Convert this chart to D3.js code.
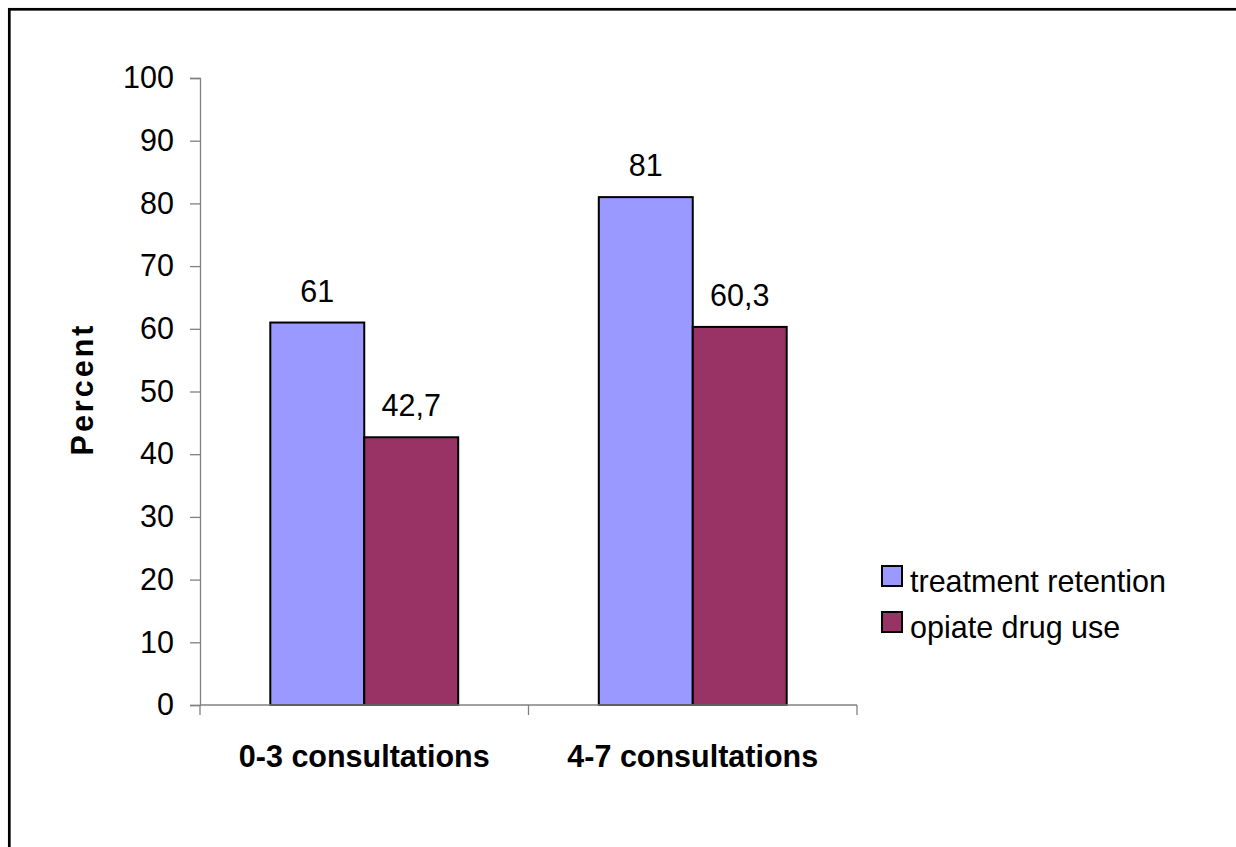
<!DOCTYPE html>
<html>
<head>
<meta charset="utf-8">
<script src="https://cdn.jsdelivr.net/npm/d3@7"></script>
<style>
  html, body { margin: 0; padding: 0; background: #fff; }
  svg { display: block; }
  text { font-family: "Liberation Sans", Arial, sans-serif; fill: #000; }
</style>
</head>
<body>
<svg id="chart" width="1236" height="847"></svg>
<script>
const categories = ["0-3 consultations", "4-7 consultations"];
const seriesNames = ["treatment retention", "opiate drug use"];
const treatmentRetention = [61, 81];
const opiateDrugUse = [42.7, 60.3];
const valueLabels = [["61", "81"], ["42,7", "60,3"]];
const yTicks = [0, 10, 20, 30, 40, 50, 60, 70, 80, 90, 100];
const colors = ["#9999FF", "#993366"];

(function () {
const FS = 30.5;
const series = [treatmentRetention, opiateDrugUse];
const svg = d3.select("#chart");

// frame
svg.append("rect").attr("x", 9.3).attr("y", 9.3).attr("width", 1260).attr("height", 870)
  .attr("fill", "none").attr("stroke", "#000").attr("stroke-width", 2.7);

const pLeft = 200, pRight = 857, pTop = 78, pBottom = 705;
const y = d3.scaleLinear().domain([0, 100]).range([pBottom, pTop]);
const x0 = d3.scaleBand().domain(categories).range([pLeft, pRight]).paddingInner(0.428).paddingOuter(0.214);
const x1 = d3.scaleBand().domain([0, 1]).range([0, x0.bandwidth()]);

// y axis
const yAxis = svg.append("g").attr("transform", `translate(${pLeft},0)`)
  .call(d3.axisLeft(y).tickValues(yTicks).tickSize(10).tickPadding(16).tickFormat(d3.format("d")));
yAxis.select(".domain").attr("stroke", "#808080").attr("stroke-width", 1.3);
yAxis.selectAll(".tick line").attr("stroke", "#808080").attr("stroke-width", 1.3);
yAxis.selectAll(".tick text").attr("font-size", FS).attr("font-family", "Liberation Sans, Arial, sans-serif").attr("fill", "#000");

// bars
const groups = svg.append("g").selectAll("g").data(categories).join("g")
  .attr("transform", d => `translate(${x0(d)},0)`);
series.forEach((vals, si) => {
  groups.append("rect")
    .attr("x", x1(si))
    .attr("y", (d, i) => y(vals[i]))
    .attr("width", x1.bandwidth())
    .attr("height", (d, i) => y(0) - y(vals[i]))
    .attr("fill", colors[si])
    .attr("stroke", "#000").attr("stroke-width", 2);
  groups.append("text")
    .attr("x", x1(si) + x1.bandwidth() / 2)
    .attr("y", (d, i) => y(vals[i]) - 21)
    .attr("text-anchor", "middle").attr("font-size", FS)
    .text((d, i) => valueLabels[si][i]);
});

// x axis
const xAxisLine = svg.append("g").attr("transform", `translate(0,${pBottom})`);
xAxisLine.append("line").attr("x1", pLeft).attr("x2", pRight).attr("y1", 0).attr("y2", 0)
  .attr("stroke", "#808080").attr("stroke-width", 1.3);
const xTickPos = [pLeft].concat(categories.map(c => x0(c) + x0.bandwidth() + (x0.step() - x0.bandwidth()) / 2));
xAxisLine.selectAll("line.t").data(xTickPos).join("line").attr("class", "t")
  .attr("x1", d => d).attr("x2", d => d).attr("y1", 0).attr("y2", 10)
  .attr("stroke", "#808080").attr("stroke-width", 1.3);
svg.append("g").selectAll("text").data(categories).join("text")
  .attr("x", d => x0(d) + x0.bandwidth() / 2)
  .attr("y", 767)
  .attr("text-anchor", "middle").attr("font-size", FS).attr("font-weight", "bold")
  .text(d => d);

// y title
svg.append("text").attr("transform", `translate(93,389) rotate(-90)`)
  .attr("text-anchor", "middle").attr("font-size", FS).attr("font-weight", "bold")
  .attr("letter-spacing", 3)
  .text("Percent");

// legend
const legend = svg.append("g").attr("transform", "translate(882,566)");
seriesNames.forEach((name, i) => {
  legend.append("rect").attr("x", 0).attr("y", i * 46).attr("width", 20).attr("height", 20)
    .attr("fill", colors[i]).attr("stroke", "#000").attr("stroke-width", 2);
  legend.append("text").attr("x", 28).attr("y", i * 46 + 26).attr("font-size", FS).text(name);
});
})();
</script>
</body>
</html>
